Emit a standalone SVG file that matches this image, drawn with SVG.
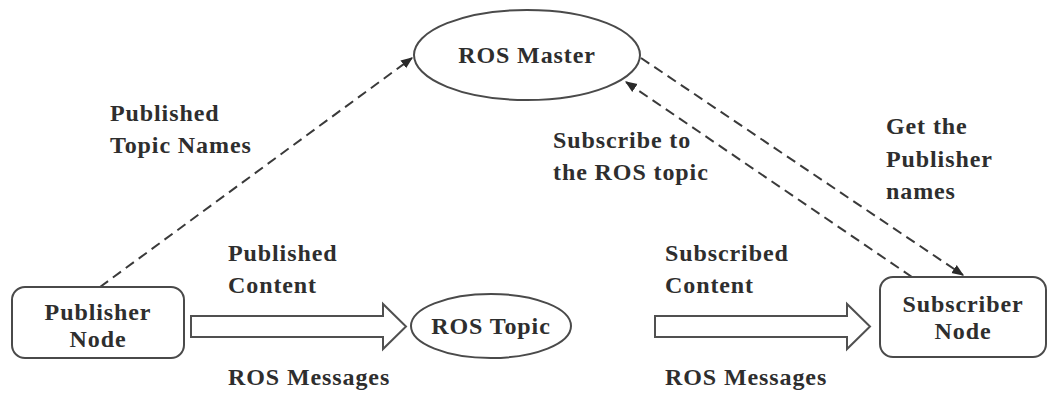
<svg xmlns="http://www.w3.org/2000/svg" width="1049" height="396" viewBox="0 0 1049 396">
  <style>
    .mid { text-anchor: middle; }
    .shape { fill: #ffffff; stroke: #4a4a4a; stroke-width: 2; }
    .dash { fill: none; stroke: #3a3a3a; stroke-width: 2; stroke-dasharray: 10 6; }
    .flow { fill: #ffffff; stroke: #505050; stroke-width: 2; stroke-linejoin: miter; }
  </style>
  <defs>
    <marker id="tip" viewBox="0 0 10 10" refX="9" refY="5" markerWidth="6" markerHeight="6" orient="auto">
      <path d="M0,1 L10,5 L0,9 Z" fill="#2a2a2a"/>
    </marker>
  </defs>
  <rect width="1049" height="396" fill="#ffffff"/>

  <!-- connectors -->
  <g id="connectors">
    <line class="dash" x1="100" y1="287" x2="412" y2="58" marker-end="url(#tip)"/>
    <line class="dash" x1="912" y1="277" x2="626" y2="82" marker-end="url(#tip)"/>
    <line class="dash" x1="641" y1="58" x2="963" y2="275" marker-end="url(#tip)"/>
    <path class="flow" d="M191,316 H383 V304 L406,326.5 L383,349 V337 H191 Z"/>
    <path class="flow" d="M655,316 H847 V304 L870,326.5 L847,349 V337 H655 Z"/>
  </g>

  <!-- all text shares one serif bold face -->
  <g font-family="'Liberation Serif', serif" font-weight="bold" font-size="24" letter-spacing="0.9" fill="#2e2e2e">
    <g id="ros-master">
      <ellipse class="shape" cx="527" cy="55" rx="113" ry="45"/>
      <text class="mid" x="527" y="63">ROS Master</text>
    </g>
    <g id="publisher-node">
      <rect class="shape" x="12" y="287" width="172" height="71" rx="13"/>
      <text class="mid" x="98" y="320">Publisher</text>
      <text class="mid" x="98" y="347">Node</text>
    </g>
    <g id="ros-topic">
      <ellipse class="shape" cx="491" cy="326" rx="80" ry="32"/>
      <text class="mid" x="491" y="334">ROS Topic</text>
    </g>
    <g id="subscriber-node">
      <rect class="shape" x="880" y="277" width="166" height="80" rx="13"/>
      <text class="mid" x="963" y="312">Subscriber</text>
      <text class="mid" x="963" y="339">Node</text>
    </g>

    <!-- edge labels -->
    <g id="labels">
      <text x="110" y="121">Published</text>
      <text x="110" y="153">Topic Names</text>
      <text x="228" y="261">Published</text>
      <text x="228" y="293">Content</text>
      <text x="228" y="385">ROS Messages</text>
      <text x="553" y="148">Subscribe to</text>
      <text x="553" y="180">the ROS topic</text>
      <text x="886" y="134">Get the</text>
      <text x="886" y="167">Publisher</text>
      <text x="886" y="199">names</text>
      <text x="665" y="261">Subscribed</text>
      <text x="665" y="293">Content</text>
      <text x="665" y="385">ROS Messages</text>
    </g>
  </g>
</svg>
